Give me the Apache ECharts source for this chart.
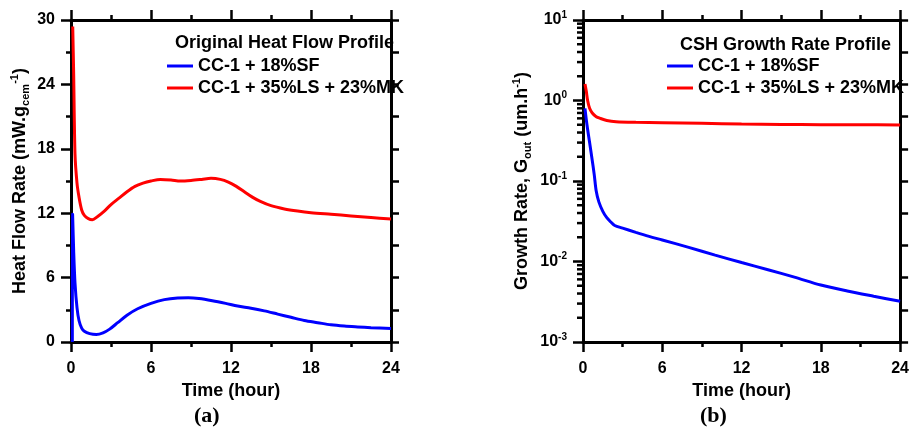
<!DOCTYPE html>
<html>
<head>
<meta charset="utf-8">
<title>Heat flow and CSH growth rate</title>
<script src="https://cdn.jsdelivr.net/npm/echarts@6/dist/echarts.min.js"></script>
<style>
  html, body { margin: 0; padding: 0; background: #fff; }
  #chart { width: 912px; height: 429px; }
</style>
</head>
<body>
<div id="chart"></div>
<script>
// series names
const nameSF = 'CC-1 + 18%SF'
const nameLSMK = 'CC-1 + 35%LS + 23%MK'

// (a) heat flow, [hour, mW/g]
const heatSF = [
  [0.1, 0], [0.12, 11.9], [0.2, 8.5], [0.3, 5.5], [0.45, 3.2], [0.6, 2.0], [0.8, 1.3],
  [1.0, 1.0], [1.4, 0.78], [1.9, 0.7], [2.4, 0.85], [2.9, 1.2], [3.5, 1.8], [4.2, 2.5],
  [5.0, 3.1], [6.0, 3.6], [7.0, 3.95], [8.0, 4.1], [8.8, 4.12], [9.6, 4.05], [10.6, 3.85],
  [11.6, 3.6], [12.5, 3.35], [13.5, 3.15], [14.5, 2.9], [15.5, 2.6], [16.5, 2.3],
  [17.5, 2.0], [18.5, 1.8], [19.5, 1.6], [20.5, 1.48], [21.5, 1.4], [22.5, 1.33], [24, 1.25]
]
const heatLSMK = [
  [0.13, 29.4], [0.2, 25], [0.3, 17.5], [0.45, 14.8], [0.6, 13.5], [0.8, 12.3], [1.0, 11.8],
  [1.3, 11.5], [1.6, 11.4], [2.0, 11.7], [2.5, 12.2], [3.0, 12.8], [3.6, 13.4], [4.2, 14.0],
  [4.8, 14.5], [5.4, 14.8], [6.0, 15.0], [6.7, 15.15], [7.5, 15.1], [8.2, 15.0], [9.0, 15.05],
  [9.8, 15.15], [10.5, 15.25], [11.2, 15.15], [11.8, 14.9], [12.4, 14.5], [13.0, 14.0],
  [13.6, 13.5], [14.2, 13.1], [15.0, 12.7], [16.0, 12.4], [17.0, 12.2], [18.0, 12.05],
  [19.5, 11.9], [21.0, 11.75], [22.5, 11.6], [24.0, 11.45]
]

// (b) growth rate, [hour, um/h]
const growthSF = [
  [0.15, 0.8], [0.3, 0.5], [0.5, 0.3], [0.7, 0.18], [0.85, 0.12], [1.0, 0.075], [1.2, 0.055],
  [1.5, 0.042], [1.8, 0.035], [2.1, 0.031], [2.4, 0.028], [3.0, 0.026], [4.0, 0.023],
  [5.0, 0.0205], [6.0, 0.0185], [8, 0.015], [10, 0.012], [12, 0.0097], [14, 0.0079],
  [16, 0.0064], [18, 0.0051], [20, 0.0043], [22, 0.0037], [24, 0.0032]
]
const growthLSMK = [
  [0.15, 1.6], [0.25, 1.3], [0.35, 1.0], [0.5, 0.8], [0.7, 0.7], [1.0, 0.63], [1.3, 0.6],
  [1.8, 0.565], [2.5, 0.545], [4, 0.535], [6, 0.53], [9, 0.52], [12, 0.51], [15, 0.505],
  [18, 0.5], [21, 0.5], [24, 0.495]
]

// minor ticks of the log axis (2..9 in each decade)
const logMinorTicks = [
  0.002, 0.003, 0.004, 0.005, 0.006, 0.007, 0.008, 0.009,
  0.02, 0.03, 0.04, 0.05, 0.06, 0.07, 0.08, 0.09,
  0.2, 0.3, 0.4, 0.5, 0.6, 0.7, 0.8, 0.9,
  2, 3, 4, 5, 6, 7, 8, 9
]

const font = 'Liberation Sans, Arial, sans-serif'
const axisLine = { show: true, onZero: false, lineStyle: { color: '#000', width: 3 } }
const tickStyle = { color: '#000', width: 2.5 }
const labelStyle = { color: '#000', fontFamily: font, fontWeight: 'bold', fontSize: 16 }
const nameStyle = { color: '#000', fontFamily: font, fontWeight: 'bold', fontSize: 18 }
const subSup = {
  sub: { fontFamily: font, fontWeight: 'bold', fontSize: 11, verticalAlign: 'bottom', color: '#000' },
  sup: { fontFamily: font, fontWeight: 'bold', fontSize: 11, verticalAlign: 'top', color: '#000' }
}

function timeAxis(grid, top) {
  return {
    type: 'value', gridIndex: grid, position: top ? 'top' : 'bottom',
    min: 0, max: 24, interval: 6,
    name: top ? '' : 'Time (hour)', nameLocation: 'middle', nameGap: 38, nameTextStyle: nameStyle,
    axisLine: axisLine,
    axisTick: { show: true, length: 10, lineStyle: tickStyle },
    minorTick: { show: true, splitNumber: 2, length: 5, lineStyle: tickStyle },
    axisLabel: Object.assign({ show: !top, margin: 19 }, labelStyle),
    splitLine: { show: false }
  }
}

function lineSeries(name, color, x, y, data) {
  return {
    name: name, type: 'line', xAxisIndex: x, yAxisIndex: y, data: data,
    showSymbol: false, smooth: 0.3, lineStyle: { color: color, width: 3 }, itemStyle: { color: color },
    animation: false
  }
}

const chart = echarts.init(document.getElementById('chart'))
chart.setOption({
  backgroundColor: '#fff',
  title: [
    { text: 'Original Heat Flow Profile', left: 170, top: 29, textStyle: nameStyle },
    { text: 'CSH Growth Rate Profile', left: 675, top: 31, textStyle: nameStyle }
  ],
  legend: [
    {
      data: [nameSF, nameLSMK], orient: 'vertical', left: 162, top: 52, itemGap: 4,
      icon: 'rect', itemWidth: 26, itemHeight: 3, textStyle: Object.assign({ lineHeight: 18 }, nameStyle)
    },
    {
      data: [nameSF, nameLSMK], orient: 'vertical', left: 662, top: 52, itemGap: 4,
      icon: 'rect', itemWidth: 26, itemHeight: 3, textStyle: Object.assign({ lineHeight: 18 }, nameStyle)
    }
  ],
  grid: [
    { left: 71, top: 20, width: 320, height: 322 },
    { left: 583, top: 20, width: 320, height: 322 }
  ],
  xAxis: [timeAxis(0, false), timeAxis(0, true), timeAxis(1, false), timeAxis(1, true)],
  yAxis: [
    {
      type: 'value', gridIndex: 0, min: 0, max: 30, interval: 6,
      name: 'Heat Flow Rate (mW.g{sub|cem}{sup|-1})', nameLocation: 'middle', nameGap: 40,
      nameTextStyle: Object.assign({ lineHeight: 22, rich: subSup }, nameStyle),
      axisLine: axisLine,
      axisTick: { show: true, length: 10, lineStyle: tickStyle },
      minorTick: { show: true, splitNumber: 2, length: 5, lineStyle: tickStyle },
      axisLabel: Object.assign({ margin: 16 }, labelStyle),
      splitLine: { show: false }
    },
    {
      type: 'value', gridIndex: 0, position: 'right', min: 0, max: 30, interval: 3,
      axisLine: axisLine, axisTick: { show: true, length: 8, lineStyle: tickStyle },
      axisLabel: { show: false }, splitLine: { show: false }
    },
    {
      type: 'log', gridIndex: 1, min: 0.001, max: 10, logBase: 10,
      name: 'Growth Rate, G{sub|out} (um.h{sup|-1})', nameLocation: 'middle', nameGap: 50,
      nameTextStyle: Object.assign({ lineHeight: 22, rich: subSup }, nameStyle),
      axisLine: axisLine,
      axisTick: { show: true, length: 10, lineStyle: tickStyle },
      axisLabel: Object.assign({
        margin: 16,
        formatter: function (v) {
          return '{b|10}{s|' + Math.round(Math.log10(v)) + '}'
        },
        rich: {
          b: { fontFamily: font, fontWeight: 'bold', fontSize: 16, color: '#000' },
          s: { fontFamily: font, fontWeight: 'bold', fontSize: 10, verticalAlign: 'top', color: '#000' }
        },
        lineHeight: 20
      }, labelStyle),
      splitLine: { show: false }
    },
    {
      type: 'value', gridIndex: 1, position: 'right', min: 0, max: 10, interval: 1,
      axisLine: axisLine, axisTick: { show: true, length: 8, lineStyle: tickStyle },
      axisLabel: { show: false }, splitLine: { show: false }
    }
  ],
  graphic: [
    { type: 'text', left: 194, top: 405, style: { text: '(a)', font: 'bold 22px "Liberation Serif", "Times New Roman", serif', fill: '#000' } },
    { type: 'text', left: 700, top: 405, style: { text: '(b)', font: 'bold 22px "Liberation Serif", "Times New Roman", serif', fill: '#000' } }
  ],
  series: [
    lineSeries(nameSF, '#0000ff', 0, 0, heatSF),
    lineSeries(nameLSMK, '#ff0000', 0, 0, heatLSMK),
    lineSeries(nameSF, '#0000ff', 2, 2, growthSF),
    lineSeries(nameLSMK, '#ff0000', 2, 2, growthLSMK),
    {
      // minor ticks on the log axis
      type: 'custom', xAxisIndex: 2, yAxisIndex: 2, silent: true, animation: false, clip: false,
      data: logMinorTicks.map(function (v) { return [0, v] }),
      renderItem: function (params, api) {
        const p = api.coord([0, api.value(1)])
        return {
          type: 'line',
          shape: { x1: p[0] - 6, y1: p[1], x2: p[0], y2: p[1] },
          style: { stroke: '#000', lineWidth: 2.5 }
        }
      }
    }
  ]
})
</script>
</body>
</html>
